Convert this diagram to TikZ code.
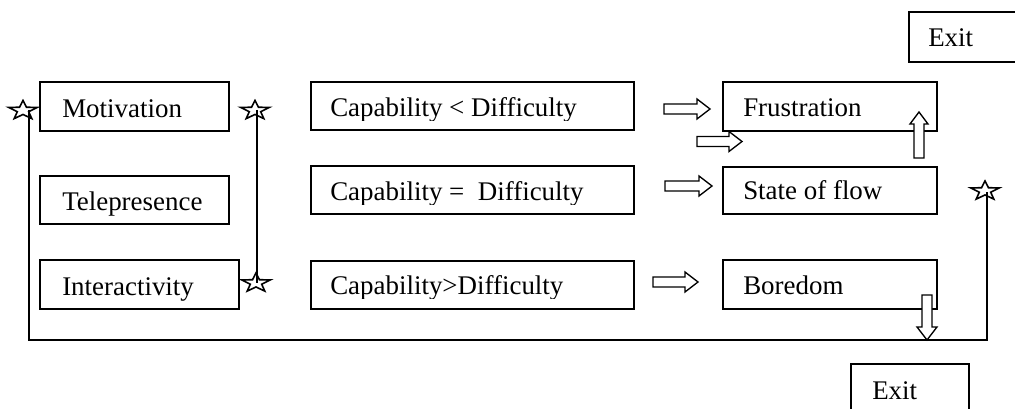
\documentclass[tikz,border=0pt]{standalone}
\usepackage{fontspec}
\setmainfont{Liberation Serif}
\usetikzlibrary{fit}
\newcommand\rblock[3]{\draw[barrow] (#1,{#3-5}) -- ({#2-13},{#3-5}) -- ({#2-13},{#3-10}) -- (#2,#3) -- ({#2-13},{#3+10}) -- ({#2-13},{#3+5}) -- (#1,{#3+5}) -- cycle;}
\newcommand\ublock[3]{\draw[barrow] ({#1-5},#2) -- ({#1-5},{#3+12}) -- ({#1-9},{#3+12}) -- (#1,#3) -- ({#1+9},{#3+12}) -- ({#1+5},{#3+12}) -- ({#1+5},#2) -- cycle;}
\newcommand\dblock[3]{\draw[barrow] ({#1-5},#2) -- ({#1-5},{#3-13}) -- ({#1-10},{#3-13}) -- (#1,#3) -- ({#1+10},{#3-13}) -- ({#1+5},{#3-13}) -- ({#1+5},#2) -- cycle;}
\begin{document}
\begin{tikzpicture}[x=0.75pt,y=-0.75pt,
  box/.style={draw, line width=1.1pt, inner sep=0pt},
  txt/.style={anchor=base west, inner sep=0pt, font=\fontsize{20.2}{24}\selectfont},
  barrow/.style={draw, line width=1pt, fill=white, line join=miter},
  link/.style={draw, line width=1.1pt},
  ostar/.pic={\draw[line width=1.2pt, fill=white, line join=miter] (0,-10) -- (3.5,-3.25) -- (14.3,-3.1) -- (5.7,1.24) -- (8.8,8.1) -- (0,4) -- (-8.8,8.1) -- (-5.7,1.24) -- (-14.3,-3.1) -- (-3.5,-3.25) -- cycle;}]
\useasboundingbox (0,0) rectangle (1015,409);
\clip (0,0) rectangle (1015,409);
% boxes
\node[box, fit={(40,82) (229,131)}] (mot) {};
\node[box, fit={(40,176) (229,224)}] (tel) {};
\node[box, fit={(40,260) (239,309)}] (int) {};
\node[box, fit={(311,82) (634,130)}] (c1) {};
\node[box, fit={(311,166) (634,214)}] (c2) {};
\node[box, fit={(311,261) (634,309)}] (c3) {};
\node[box, fit={(723,82) (937,131)}] (fr) {};
\node[box, fit={(723,167) (937,214)}] (sf) {};
\node[box, fit={(723,260) (937,309)}] (bo) {};
\node[box, fit={(909,12) (1030,62)}] (ex1) {};
\node[box, fit={(851,364) (969,440)}] (ex2) {};
% texts
\node[txt] (tmot) at (62,117.5) {Motivation};
\node[txt] (ttel) at (62,211) {Telepresence};
\node[txt] (tint) at (62,295.5) {Interactivity};
\begin{scope}
\clip (311,82) rectangle (634,121);
\node[txt] (tc1) at (330,116.5) {Capability < Difficulty};
\end{scope}
\begin{scope}
\clip (311,166) rectangle (634,205);
\node[txt] (tc2) at (330,200.5) {Capability = \ Difficulty};
\end{scope}
\begin{scope}
\clip (311,261) rectangle (634,299);
\node[txt] (tc3) at (330,294.5) {Capability>Difficulty};
\end{scope}
\node[txt] (tfr) at (743,117) {Frustration};
\node[txt] (tsf) at (743,200) {State of flow};
\node[txt] (tbo) at (743,295) {Boredom};
\node[txt] (tex1) at (928,46.5) {Exit};
\node[txt] (tex2) at (872,400) {Exit};
% stars
\pic at (23,110.5) {ostar};
\pic at (255,110.5) {ostar};
\pic at (256,283) {ostar};
\pic at (985,191) {ostar};
\coordinate (sl) at (29,110);
\coordinate (sm) at (257,110);
\coordinate (si) at (257,283);
\coordinate (sr) at (987,192);
\coordinate (bl) at (29,340);
\coordinate (br) at (987,340);
\draw[link] (sl) -- (bl) -- (br) -- (sr);
\draw[link] (sm) -- (si);
% block arrows
\rblock{664}{710}{109}
\rblock{697}{742}{141.5}
\rblock{665}{712}{186}
\rblock{653}{698}{282}
\ublock{919}{158}{112}
\dblock{927}{295}{340}
\end{tikzpicture}
\end{document}
